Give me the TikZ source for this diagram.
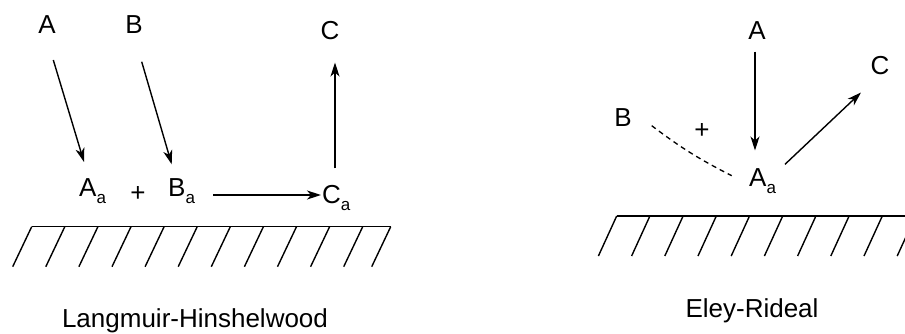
\documentclass[tikz,border=0pt]{standalone}
\usepackage{fontspec}
\setmainfont{Liberation Sans}
\usetikzlibrary{arrows.meta}
\newcommand{\subA}[1]{\raisebox{-7.5pt}{\fontsize{17}{17}\selectfont #1}}
\tikzset{
  lbl/.style={inner sep=0pt, anchor=base, font=\fontsize{26}{30}\selectfont},
  lblw/.style={inner sep=0pt, anchor=base west, font=\fontsize{26}{30}\selectfont},
  arr/.style={line width=1.4pt, -{Stealth[length=14pt,width=9pt,inset=4pt]}},
  ground/.style={line width=1.4pt},
  dashline/.style={line width=1.3pt, dash pattern=on 5pt off 4pt}
}
\begin{document}
\begin{tikzpicture}[x=1pt,y=-1pt]
\useasboundingbox (0,0) rectangle (905,333);
% ---------- Langmuir-Hinshelwood ----------
\node[lbl] (LA) at (47,33.5) {A};
\node[lbl] (LB) at (134,33.5) {B};
\node[lbl] (LC) at (330,39) {C};
\node[lblw] (LAa) at (79,196) {A\subA{a}};
\node[lbl] (Lplus) at (138,201) {+};
\node[lblw] (LBa) at (168,196) {B\subA{a}};
\node[lblw] (LCa) at (322,203) {C\subA{a}};
\node[lbl] (Ltitle) at (195,327.3) {Langmuir-Hinshelwood};
\coordinate (LA1) at (53.3,60);   \coordinate (LA2) at (84,162);
\coordinate (LB1) at (141.7,61.7); \coordinate (LB2) at (171.7,164.3);
\coordinate (LH1) at (213,195);   \coordinate (LH2) at (321,195);
\coordinate (LC1) at (335,168.3); \coordinate (LC2) at (335,62.5);
\draw[arr] (LA1) -- (LA2);
\draw[arr] (LB1) -- (LB2);
\draw[arr] (LH1) -- (LH2);
\draw[arr] (LC1) -- (LC2);
\coordinate (LG1) at (31.7,226.7); \coordinate (LG2) at (390.7,226.7);
\draw[ground] (LG1) -- (LG2);
\foreach \i in {0,...,10} {
  \draw[ground] ({31.7+33.1*\i},226.7) -- ({12.7+33.1*\i},266.7);
}
\draw[ground] (390.7,226.7) -- (371.7,266.7);
% ---------- Eley-Rideal ----------
\node[lbl] (RA) at (757,39) {A};
\node[lbl] (RC) at (880,74) {C};
\node[lbl] (RB) at (623,126) {B};
\node[lbl] (Rplus) at (702,138) {+};
\node[lblw] (RAa) at (749,186) {A\subA{a}};
\node[lbl] (Rtitle) at (752,317.3) {Eley-Rideal};
\coordinate (RA1) at (755,51.7);  \coordinate (RA2) at (755,150.5);
\coordinate (RC1) at (785,164.3); \coordinate (RC2) at (861,92.5);
\coordinate (RD1) at (651.7,125.7); \coordinate (RD2) at (731.7,175.7);
\draw[arr] (RA1) -- (RA2);
\draw[arr] (RC1) -- (RC2);
\draw[dashline] (RD1) to[bend right=5] (RD2);
\begin{scope}
\clip (0,0) rectangle (905,333);
\coordinate (RG1) at (616.7,216); \coordinate (RG2) at (910,216);
\draw[ground] (RG1) -- (RG2);
\foreach \i in {0,...,9} {
  \draw[ground] ({616.7+33.2*\i},216) -- ({598.4+33.2*\i},256);
}
\end{scope}
\end{tikzpicture}
\end{document}
